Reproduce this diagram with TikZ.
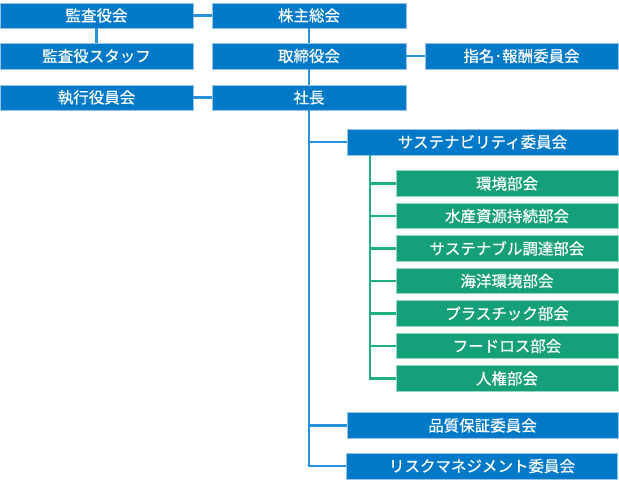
\documentclass[tikz,border=0pt]{standalone}
\usepackage{fontspec}
\newfontfamily\jpfont[FakeBold=0.4]{Noto Sans CJK JP}
\definecolor{boxblue}{RGB}{0,122,200}
\definecolor{boxgreen}{RGB}{22,160,122}
\definecolor{lineblue}{RGB}{40,145,220}
\definecolor{linegreen}{RGB}{30,175,130}
\definecolor{rimblue}{RGB}{150,195,235}
\definecolor{rimgreen}{RGB}{150,215,195}
\begin{document}
\begin{tikzpicture}[x=1pt,y=-1pt,
  bluebox/.style={fill=boxblue,draw=rimblue,line width=0.6pt,text=white,minimum height=25pt,inner sep=0pt,font=\jpfont\fontsize{15.5}{17}\selectfont},
  greenbox/.style={fill=boxgreen,draw=rimgreen,line width=0.6pt,text=white,minimum width=222pt,minimum height=25.5pt,inner sep=0pt,font=\jpfont\fontsize{15.5}{17}\selectfont},
  bconn/.style={draw=lineblue,line width=2.3pt},
  gconn/.style={draw=linegreen,line width=2.3pt}]
\useasboundingbox (0,0) rectangle (619,487);
\node[bluebox,minimum width=193pt] (kansa) at (96.5,15.5) {監査役会};
\node[bluebox,minimum width=194pt] (kabu) at (309,15.5) {株主総会};
\node[bluebox,minimum width=193pt,minimum height=26pt] (staff) at (96.5,56) {監査役スタッフ};
\node[bluebox,minimum width=194pt,minimum height=26pt] (tori) at (309,56) {取締役会};
\node[bluebox,minimum width=193pt,minimum height=26pt] (shimei) at (521.5,56) {指名･報酬委員会};
\node[bluebox,minimum width=193pt] (shikko) at (96.5,97.5) {執行役員会};
\node[bluebox,minimum width=194pt] (shacho) at (309,97.5) {社長};
\node[bluebox,minimum width=271pt,minimum height=26pt] (sust) at (482.5,142) {サステナビリティ委員会};
\node[greenbox] (g1) at (507,183.5) {環境部会};
\node[greenbox] (g2) at (507,216) {水産資源持続部会};
\node[greenbox] (g3) at (507,248.5) {サステナブル調達部会};
\node[greenbox] (g4) at (507,281) {海洋環境部会};
\node[greenbox] (g5) at (507,313.5) {プラスチック部会};
\node[greenbox] (g6) at (507,346) {フードロス部会};
\node[greenbox] (g7) at (507,378.5) {人権部会};
\node[bluebox,minimum width=271pt,minimum height=26pt] (hin) at (482.5,425.5) {品質保証委員会};
\node[bluebox,minimum width=271pt,minimum height=26pt] (risk) at (482,466) {リスクマネジメント委員会};
\coordinate (gtop) at (370,155);
\draw[bconn] (kansa.east) -- (kabu.west);
\draw[bconn] (kansa.south) -- (staff.north);
\draw[bconn] (kabu.south) -- (tori.north);
\draw[bconn] (tori.east) -- (shimei.west);
\draw[bconn] (tori.south) -- (shacho.north);
\draw[bconn] (shikko.east) -- (shacho.west);
\draw[bconn] (shacho.south) |- (risk.west);
\draw[bconn] (shacho.south |- sust.west) -- (sust.west);
\draw[bconn] (shacho.south |- hin.west) -- (hin.west);
\draw[gconn] (gtop) |- (g7.west);
\foreach \g in {g1,g2,g3,g4,g5,g6}{\draw[gconn] (gtop |- \g.west) -- (\g.west);}
\end{tikzpicture}
\end{document}
